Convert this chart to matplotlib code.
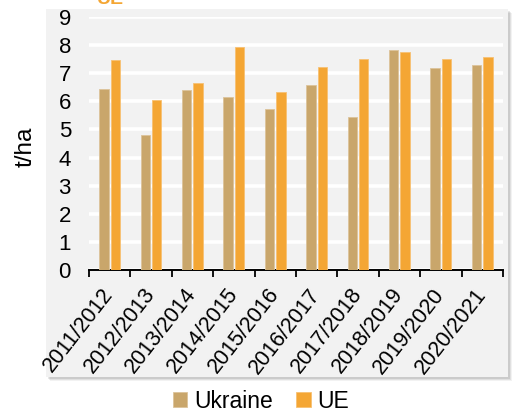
import matplotlib
matplotlib.use("Agg")
import matplotlib.pyplot as plt
from matplotlib.patches import Rectangle
import numpy as np

plt.rcParams['font.family'] = ['Liberation Sans', 'DejaVu Sans']

seasons = ["2011/2012", "2012/2013", "2013/2014", "2014/2015", "2015/2016",
           "2016/2017", "2017/2018", "2018/2019", "2019/2020", "2020/2021"]
ukraine = [6.44, 4.79, 6.40, 6.15, 5.72, 6.59, 5.43, 7.84, 7.19, 7.29]
ue = [7.46, 6.05, 6.65, 7.93, 6.34, 7.22, 7.51, 7.77, 7.50, 7.58]
series_names = ["Ukraine", "UE"]
yticks = list(range(0, 10))

W, H = 517, 412
fig = plt.figure(figsize=(W / 100, H / 100), dpi=100)
fig.patch.set_facecolor("white")

def fx(px):
    return px / W

def fy(py):
    return 1 - py / H

# shadow + panel
for i, a in enumerate([0.05, 0.07, 0.09]):
    off = 4 - i
    fig.patches.append(Rectangle((fx(46 + off), fy(377 + off)), fx(462), (377 - 9) / H,
                                 transform=fig.transFigure, facecolor="black",
                                 alpha=a, edgecolor="none", zorder=0))
fig.patches.append(Rectangle((fx(46), fy(377)), fx(462), (377 - 9) / H,
                             transform=fig.transFigure, facecolor="#f2f2f2",
                             edgecolor="none", zorder=1))

ax = fig.add_axes([fx(89), fy(270), fx(503 - 89), (270 - 17) / H])
ax.set_facecolor("none")
ax.set_zorder(2)

x = np.arange(len(seasons))
c_ua = "#C9A66B"
c_ue = "#F4A634"
ax.bar(x - 0.14, ukraine, width=0.23, color=c_ua, edgecolor="#dcc39a", linewidth=0.6,
       label=series_names[0], zorder=3)
ax.bar(x + 0.135, ue, width=0.23, color=c_ue, edgecolor="#f7c173", linewidth=0.6,
       label=series_names[1], zorder=3)

ax.set_xlim(-0.5, len(seasons) - 0.5)
ax.set_ylim(0, 9)
ax.set_yticks(yticks)
ax.set_yticklabels([str(t) for t in yticks], fontsize=16)
ax.yaxis.grid(True, color="white", linewidth=2.6, zorder=1)
ax.set_axisbelow(True)
ax.tick_params(axis="y", length=0, pad=13)

ax.set_xticks(x)
ax.set_xticklabels(seasons, rotation=52, ha="right", va="center", rotation_mode="anchor",
                   fontsize=15.5)
ax.tick_params(axis="x", which="major", length=0, pad=15)
ax.set_xticks(np.arange(-0.5, len(seasons)), minor=True)
ax.tick_params(axis="x", which="minor", length=5, width=1.3, direction="out", color="black")

for s in ["top", "right", "left"]:
    ax.spines[s].set_visible(False)
ax.spines["bottom"].set_linewidth(1.4)
ax.spines["bottom"].set_color("black")

fig.text(fx(26), fy(147), "t/ha", rotation=90, ha="center", va="center", fontsize=17.5)

leg = fig.legend(loc="center", bbox_to_anchor=(fx(261), fy(401)), ncol=2, frameon=False,
                 fontsize=16.5, handlelength=0.65, handleheight=0.65, handletextpad=0.3,
                 columnspacing=1.0, borderaxespad=0)

fig.text(fx(97), fy(3.5), "UE", color=c_ue, fontsize=14, fontweight="bold",
         ha="left", va="baseline")

fig.savefig("out.png", dpi=100)
